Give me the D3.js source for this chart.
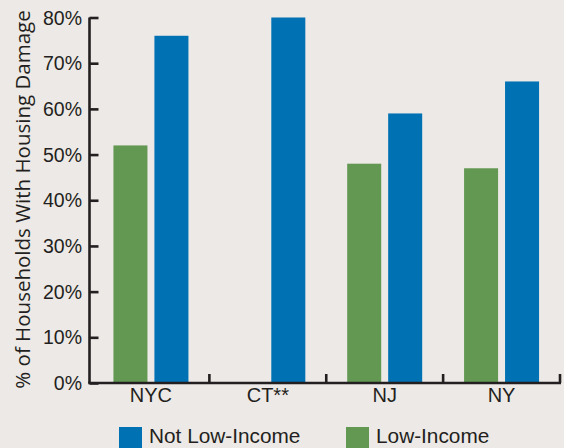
<!DOCTYPE html>
<html>
<head>
<meta charset="utf-8">
<script src="https://cdn.jsdelivr.net/npm/d3@7"></script>
<style>
  html, body { margin: 0; padding: 0; background: #ede9e6; }
  svg { display: block; }
</style>
</head>
<body>
<svg id="chart" width="564" height="448"></svg>
<script>
// Share of households reporting housing damage, by area and income group
const regions = ["NYC", "CT**", "NJ", "NY"];
const seriesNames = ["Low-Income", "Not Low-Income"];
const lowIncome = [52, null, 48, 47];
const notLowIncome = [76, 80, 59, 66];
const yTicks = [0, 10, 20, 30, 40, 50, 60, 70, 80];
const yTitle = "% of Households With Housing Damage";

const colors = { "Low-Income": "#639853", "Not Low-Income": "#0071b2" };
const ink = "#231f20";
const labelFont = "Liberation Sans, Arial, Helvetica, sans-serif";

const svg = d3.select("#chart");
const plot = { left: 89.5, right: 560, top: 17.5, bottom: 383 };

const y = d3.scaleLinear().domain([0, 80]).range([plot.bottom, plot.top]);
const x0 = d3.scaleBand().domain(regions).range([plot.left + 3, plot.right]);
const x1 = d3.scaleBand().domain(seriesNames).range([-37.5, 37.5]).paddingInner(0.17);

const rows = regions.map((r, i) => ({
  region: r,
  values: [
    { key: "Low-Income", value: lowIncome[i] },
    { key: "Not Low-Income", value: notLowIncome[i] }
  ].filter(d => d.value != null)
}));

// Bars
const groups = svg.append("g").selectAll("g").data(rows).join("g")
  .attr("transform", d => `translate(${x0(d.region) + x0.bandwidth() / 2},0)`);
groups.selectAll("rect").data(d => d.values).join("rect")
  .attr("x", d => x1(d.key))
  .attr("width", x1.bandwidth())
  .attr("y", d => y(d.value))
  .attr("height", d => y(0) - y(d.value))
  .attr("fill", d => colors[d.key]);

// Y axis: ticks point inward
const yAxis = svg.append("g").attr("transform", `translate(${plot.left},0)`)
  .call(d3.axisRight(y).tickValues(yTicks).tickSize(9).tickFormat(""));
yAxis.select(".domain").attr("stroke", ink).attr("stroke-width", 2.6)
  .attr("d", `M0,${plot.top}V${plot.bottom}`);
yAxis.selectAll(".tick line").attr("stroke", ink).attr("stroke-width", 2.6);

svg.append("g").selectAll("text").data(yTicks).join("text")
  .attr("x", 82).attr("y", d => y(d))
  .attr("dy", "0.36em")
  .attr("text-anchor", "end")
  .attr("font-family", labelFont).attr("font-size", 19.5)
  .attr("fill", ink)
  .text(d => d + "%");

// X axis: group boundary ticks point upward
const bounds = regions.map(r => x0(r) + x0.bandwidth());
svg.append("line")
  .attr("x1", plot.left - 1.3).attr("x2", plot.right + 1)
  .attr("y1", plot.bottom).attr("y2", plot.bottom)
  .attr("stroke", ink).attr("stroke-width", 2.6);
svg.append("g").selectAll("line").data(bounds).join("line")
  .attr("x1", d => d).attr("x2", d => d)
  .attr("y1", plot.bottom).attr("y2", plot.bottom - 9)
  .attr("stroke", ink).attr("stroke-width", 2.6);

svg.append("g").selectAll("text").data(regions).join("text")
  .attr("x", r => x0(r) + x0.bandwidth() / 2)
  .attr("y", 402)
  .attr("text-anchor", "middle")
  .attr("font-family", labelFont).attr("font-size", 20)
  .attr("fill", ink)
  .text(r => r);

// Axis title
svg.append("text")
  .attr("transform", `translate(30,${(12 + 387) / 2}) rotate(-90)`)
  .attr("text-anchor", "middle")
  .attr("font-family", "Open Sans, Noto Sans, sans-serif")
  .attr("font-size", 20.5)
  .attr("fill", ink)
  .text(yTitle);

// Legend
const legendItems = [
  { key: "Not Low-Income", x: 119 },
  { key: "Low-Income", x: 346 }
];
const lg = svg.append("g").selectAll("g").data(legendItems).join("g")
  .attr("transform", d => `translate(${d.x},427)`);
lg.append("rect").attr("width", 23).attr("height", 23).attr("fill", d => colors[d.key]);
lg.append("text").attr("x", 30).attr("y", 15.5)
  .attr("font-family", labelFont).attr("font-size", 20.8)
  .attr("fill", ink)
  .text(d => d.key);
</script>
</body>
</html>
